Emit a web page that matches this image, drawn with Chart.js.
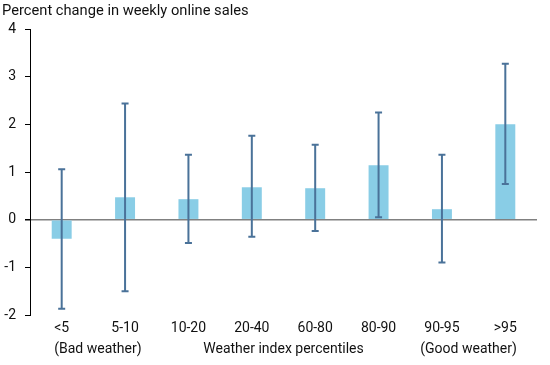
<!DOCTYPE html>
<html>
<head>
<meta charset="utf-8">
<script src="https://cdn.jsdelivr.net/npm/chart.js@4/dist/chart.umd.min.js"></script>
<style>
html,body{margin:0;padding:0;background:#fff;}
#wrap{width:550px;height:365px;position:relative;}
</style>
</head>
<body>
<div id="wrap"><canvas id="c" width="550" height="365"></canvas></div>
<script>
const categories = ['<5','5-10','10-20','20-40','60-80','80-90','90-95','>95'];
const leftNote = '(Bad weather)';
const rightNote = '(Good weather)';
const axisTitle = 'Weather index percentiles';
const values = [-0.40, 0.47, 0.43, 0.68, 0.66, 1.14, 0.22, 2.00];
const errLow = [-1.87, -1.50, -0.49, -0.36, -0.24, 0.05, -0.90, 0.75];
const errHigh = [1.06, 2.44, 1.36, 1.76, 1.57, 2.25, 1.36, 3.27];
const yTicks = [-2, -1, 0, 1, 2, 3, 4];

const FONT = 'Roboto, "Liberation Sans", sans-serif';
const TXT = '#111';
const TITLE_PAD_BOTTOM = 7.6;
const TITLE_LH = 16.8;

const errorBars = {
  id: 'errorBars',
  afterDatasetsDraw(chart) {
    const ctx = chart.ctx, x = chart.scales.x, y = chart.scales.y;
    ctx.save();
    ctx.strokeStyle = '#4A7299';
    ctx.lineWidth = 2;
    categories.forEach((c, i) => {
      const px = x.getPixelForValue(i);
      const yl = y.getPixelForValue(errLow[i]);
      const yh = y.getPixelForValue(errHigh[i]);
      ctx.beginPath();
      ctx.moveTo(px, yl); ctx.lineTo(px, yh);
      ctx.moveTo(px - 3.5, yl); ctx.lineTo(px + 3.5, yl);
      ctx.moveTo(px - 3.5, yh); ctx.lineTo(px + 3.5, yh);
      ctx.stroke();
    });
    ctx.restore();
  }
};

const notes = {
  id: 'notes',
  afterDraw(chart) {
    const ctx = chart.ctx, x = chart.scales.x;
    ctx.save();
    ctx.font = '14px ' + FONT;
    ctx.fillStyle = TXT;
    ctx.textBaseline = 'middle';
    const yy = x.bottom - TITLE_PAD_BOTTOM - TITLE_LH / 2;
    const first = categories[0], last = categories[categories.length - 1];
    const lx = x.getPixelForValue(0) - ctx.measureText(first).width / 2;
    const rx = x.getPixelForValue(categories.length - 1) + ctx.measureText(last).width / 2;
    ctx.textAlign = 'left';
    ctx.fillText(leftNote, lx, yy);
    ctx.textAlign = 'right';
    ctx.fillText(rightNote, rx, yy);
    ctx.restore();
  }
};

new Chart(document.getElementById('c'), {
  type: 'bar',
  data: {
    labels: categories,
    datasets: [{
      data: values,
      backgroundColor: '#89CDE6',
      borderWidth: 0,
      barPercentage: 0.315,
      categoryPercentage: 1
    }]
  },
  options: {
    responsive: false,
    animation: false,
    layout: { padding: { left: 2, right: 13, top: 3, bottom: 0 } },
    plugins: {
      legend: { display: false },
      tooltip: { enabled: false },
      title: {
        display: true,
        text: 'Percent change in weekly online sales',
        align: 'start',
        color: TXT,
        font: { family: FONT, size: 14.7, weight: 'normal', lineHeight: 1.2 },
        padding: { top: 0, bottom: 8.4 }
      }
    },
    scales: {
      x: {
        grid: { display: false, drawTicks: false },
        border: { display: false },
        ticks: {
          color: TXT,
          font: { family: FONT, size: 14, lineHeight: 1.2 },
          padding: 5,
          maxRotation: 0,
          autoSkip: false
        },
        title: {
          display: true,
          text: axisTitle,
          color: TXT,
          font: { family: FONT, size: 14, lineHeight: 1.2 },
          padding: { top: -1.2, bottom: TITLE_PAD_BOTTOM }
        }
      },
      y: {
        min: -2,
        max: 4,
        afterBuildTicks: (s) => { s.ticks = yTicks.map(v => ({ value: v })); },
        afterFit: (s) => { s.width = 28; },
        border: { display: true, color: '#000', width: 1 },
        grid: {
          drawOnChartArea: true,
          drawTicks: true,
          tickLength: 5,
          tickColor: '#000',
          color: (ctx) => (ctx.tick && ctx.tick.value === 0) ? '#808080' : 'rgba(0,0,0,0)',
          lineWidth: (ctx) => (ctx.tick && ctx.tick.value === 0) ? 1.5 : 1
        },
        ticks: {
          color: TXT,
          font: { family: FONT, size: 14 },
          padding: 9
        }
      }
    }
  },
  plugins: [errorBars, notes]
});
</script>
</body>
</html>
